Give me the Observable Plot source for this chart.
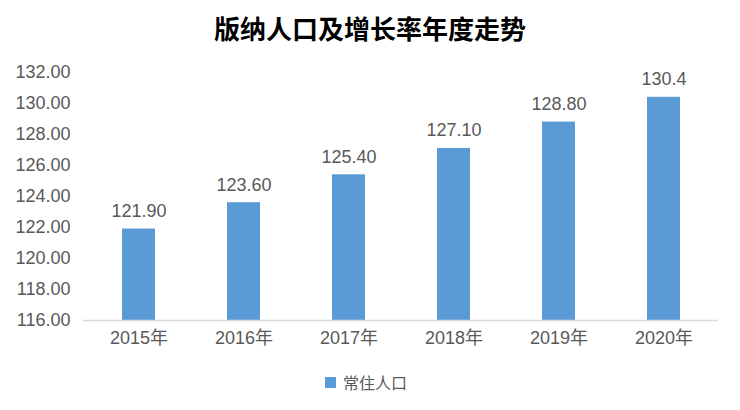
<!DOCTYPE html>
<html>
<head>
<meta charset="utf-8">
<script src="https://cdn.jsdelivr.net/npm/d3@7"></script>
<script src="https://cdn.jsdelivr.net/npm/@observablehq/plot@0.6"></script>
<style>
  body { margin: 0; background: #fff; width: 740px; font-family: Helvetica, Arial, "Liberation Sans", "Noto Sans CJK SC", sans-serif; }
  #title { height: 56px; line-height: 56px; text-align: center; font-size: 26px; font-weight: bold; color: #000; font-family: "Noto Sans CJK SC", sans-serif; }
  #legend { height: 44px; display: flex; align-items: center; justify-content: center; font-size: 16px; color: #595959; font-family: "Noto Sans CJK SC", sans-serif; }
  #legend .sw { width: 11px; height: 11px; background: #5b9bd5; margin-right: 7px; margin-left: -8px; }
</style>
</head>
<body>
<div id="title">版纳人口及增长率年度走势</div>
<div id="chart"></div>
<div id="legend"><span class="sw"></span><span>常住人口</span></div>
<script>
const years = ["2015年", "2016年", "2017年", "2018年", "2019年", "2020年"];
const population = [121.9, 123.6, 125.4, 127.1, 128.8, 130.4];
const valueLabels = ["121.90", "123.60", "125.40", "127.10", "128.80", "130.4"];
const yTicks = [116, 118, 120, 122, 124, 126, 128, 130, 132];
const seriesName = "常住人口";

const data = years.map((y, i) => ({year: y, value: population[i], label: valueLabels[i]}));

const chart = Plot.plot({
  width: 740,
  height: 304,
  marginLeft: 83,
  marginRight: 22,
  marginTop: 16,
  marginBottom: 40,
  style: {fontSize: "18px", fontFamily: "Helvetica, Arial, 'Liberation Sans', 'Noto Sans CJK SC', sans-serif", color: "#595959", background: "#fff"},
  x: {domain: years, paddingInner: 0.69, paddingOuter: 0.345, label: null},
  y: {domain: [116, 132], label: null},
  marks: [
    Plot.axisY({ticks: yTicks, tickFormat: d3.format(".2f"), tickSize: 0, tickPadding: 13, label: null}),
    Plot.axisX({tickSize: 0, tickPadding: 11, label: null}),
    Plot.barY(data, {x: "year", y1: 116, y2: "value", fill: "#5b9bd5"}),
    Plot.ruleY([116], {stroke: "#d9d9d9", strokeWidth: 1.5}),
    Plot.text(data, {x: "year", y: "value", text: "label", lineAnchor: "bottom", dy: -12, fill: "#595959", fontSize: 18})
  ]
});
document.getElementById("chart").appendChild(chart);
</script>
</body>
</html>
